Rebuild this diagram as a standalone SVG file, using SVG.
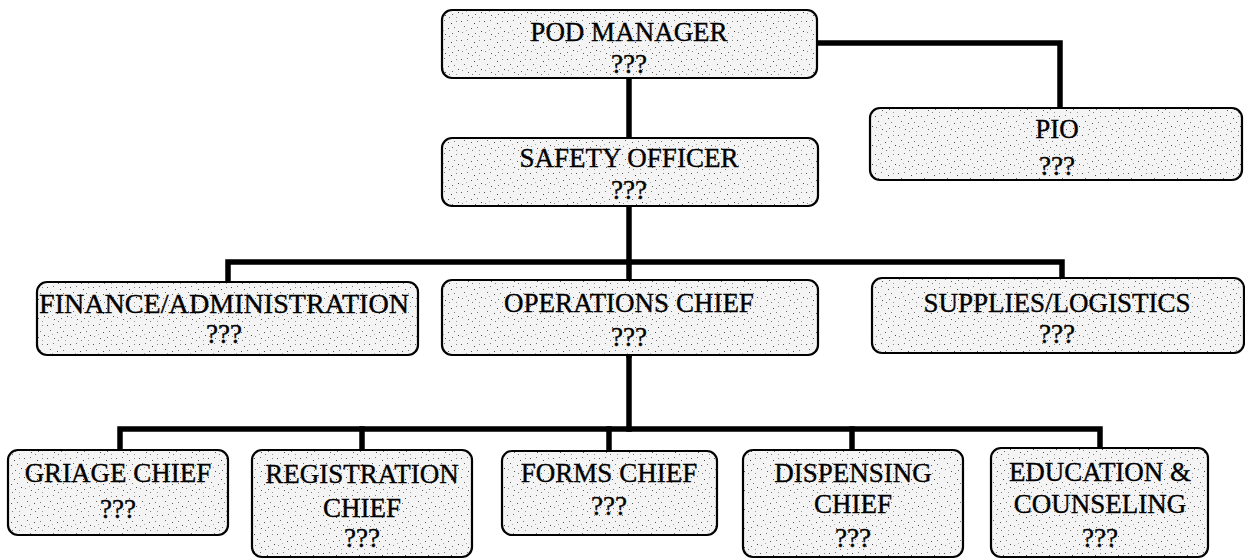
<svg xmlns="http://www.w3.org/2000/svg" width="1245" height="560" viewBox="0 0 1245 560">
<defs>
<pattern id="stip" width="23" height="19" patternUnits="userSpaceOnUse">
<rect width="23" height="19" fill="#f4f4f4"/>
<rect x="1" y="2" width="1" height="1" fill="#555"/>
<rect x="7" y="1" width="1" height="1" fill="#777"/>
<rect x="14" y="4" width="1" height="1" fill="#444"/>
<rect x="19" y="2" width="1" height="1" fill="#888"/>
<rect x="4" y="7" width="1" height="1" fill="#666"/>
<rect x="11" y="9" width="1" height="1" fill="#555"/>
<rect x="17" y="8" width="1" height="1" fill="#777"/>
<rect x="21" y="12" width="1" height="1" fill="#444"/>
<rect x="2" y="13" width="1" height="1" fill="#888"/>
<rect x="8" y="15" width="1" height="1" fill="#555"/>
<rect x="15" y="14" width="1" height="1" fill="#666"/>
<rect x="12" y="17" width="1" height="1" fill="#777"/>
<rect x="19" y="17" width="1" height="1" fill="#999"/>
<rect x="6" y="11" width="1" height="1" fill="#aaa"/>
</pattern>
<style>
.box{fill:url(#stip);stroke:#000;stroke-width:2.2}
.t{font-family:"Liberation Serif","Times New Roman",serif;font-size:27px;fill:#000;stroke:#000;stroke-width:0.35;text-anchor:middle}
.c{fill:none;stroke:#000;stroke-width:5.5;stroke-linecap:square;stroke-linejoin:miter}
</style>
</defs>
<rect width="1245" height="560" fill="#fff"/>
<g id="connectors">
<path class="c" d="M817,43 H1060 V108"/>
<path class="c" d="M629,78 V138"/>
<path class="c" d="M629,206 V355"/>
<path class="c" d="M228,281 V262 H1062 V278"/>
<path class="c" d="M629,355 V429"/>
<path class="c" d="M120,450 V429 H1100 V448"/>
<path class="c" d="M362,429 V450"/>
<path class="c" d="M609,429 V451"/>
<path class="c" d="M852,429 V450"/>
</g>
<g id="pod-manager">
<rect class="box" x="442" y="10" width="375" height="68" rx="10"/>
<text class="t" x="629" y="41">POD MANAGER</text>
<text class="t" x="629" y="73">???</text>
</g>
<g id="pio">
<rect class="box" x="870" y="108" width="372" height="72" rx="10"/>
<text class="t" x="1057" y="138">PIO</text>
<text class="t" x="1057" y="175">???</text>
</g>
<g id="safety-officer">
<rect class="box" x="442" y="138" width="376" height="68" rx="10"/>
<text class="t" x="629" y="167">SAFETY OFFICER</text>
<text class="t" x="629" y="199">???</text>
</g>
<g id="finance">
<rect class="box" x="37" y="282" width="381" height="73" rx="10"/>
<text class="t" x="224" y="313" textLength="370" lengthAdjust="spacingAndGlyphs">FINANCE/ADMINISTRATION</text>
<text class="t" x="224" y="343">???</text>
</g>
<g id="operations-chief">
<rect class="box" x="442" y="280" width="376" height="75" rx="10"/>
<text class="t" x="629" y="312">OPERATIONS CHIEF</text>
<text class="t" x="629" y="346">???</text>
</g>
<g id="supplies">
<rect class="box" x="872" y="278" width="372" height="75" rx="10"/>
<text class="t" x="1057" y="312">SUPPLIES/LOGISTICS</text>
<text class="t" x="1057" y="343">???</text>
</g>
<g id="griage-chief">
<rect class="box" x="8" y="450" width="220" height="85" rx="10"/>
<text class="t" x="118" y="482">GRIAGE CHIEF</text>
<text class="t" x="118" y="518">???</text>
</g>
<g id="registration-chief">
<rect class="box" x="252" y="450" width="220" height="107" rx="10"/>
<text class="t" x="362" y="483">REGISTRATION</text>
<text class="t" x="362" y="517">CHIEF</text>
<text class="t" x="362" y="547">???</text>
</g>
<g id="forms-chief">
<rect class="box" x="502" y="451" width="215" height="84" rx="10"/>
<text class="t" x="609" y="482">FORMS CHIEF</text>
<text class="t" x="609" y="515">???</text>
</g>
<g id="dispensing-chief">
<rect class="box" x="743" y="450" width="220" height="107" rx="10"/>
<text class="t" x="853" y="482">DISPENSING</text>
<text class="t" x="853" y="513">CHIEF</text>
<text class="t" x="853" y="547">???</text>
</g>
<g id="education-counseling">
<rect class="box" x="991" y="448" width="217" height="109" rx="10"/>
<text class="t" x="1100" y="481">EDUCATION &amp;</text>
<text class="t" x="1100" y="513">COUNSELING</text>
<text class="t" x="1100" y="547">???</text>
</g>
</svg>
